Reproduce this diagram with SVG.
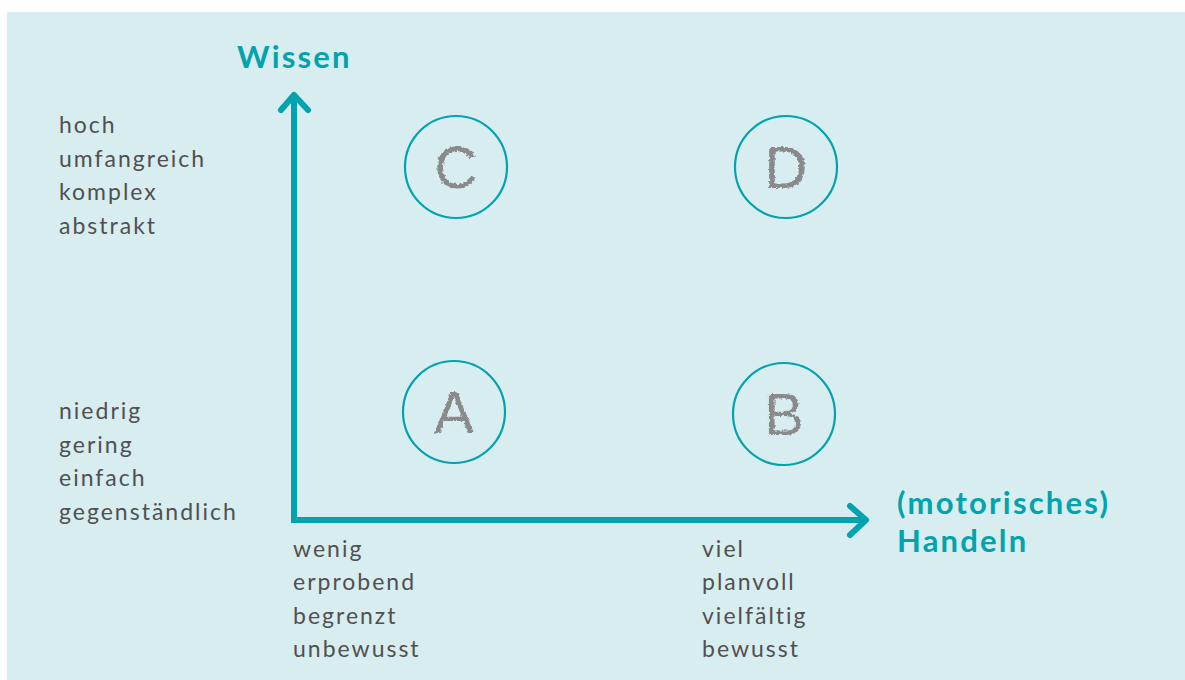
<svg xmlns="http://www.w3.org/2000/svg" width="1185" height="680" viewBox="0 0 1185 680">
  <defs>
    <style>
      .lbl { font-family: Lato, "Open Sans", "Liberation Sans", sans-serif; font-weight: 400; font-size: 23px; letter-spacing: 2px; fill: #505050; }
      .axis-title { font-family: Lato, "Open Sans", "Liberation Sans", sans-serif; font-weight: 700; font-size: 31px; letter-spacing: 2.2px; fill: #00a3ae; }
      .ring { fill: none; stroke: #00a3ae; stroke-width: 2.2; }
      .chalk { font-family: "Liberation Sans", Arial, sans-serif; font-size: 60px; fill: #8a8a8a; text-anchor: middle; filter: url(#rough); }
      .axis { fill: none; stroke: #00a3ae; stroke-width: 6; }
      .head { fill: none; stroke: #00a3ae; stroke-width: 6; stroke-linecap: round; stroke-linejoin: round; }
    </style>
    <!-- crayon-like roughness for the quadrant letters -->
    <filter id="rough" x="-20%" y="-20%" width="140%" height="140%">
      <feTurbulence type="fractalNoise" baseFrequency="0.35" numOctaves="2" seed="3" result="n"/>
      <feDisplacementMap in="SourceGraphic" in2="n" scale="4" xChannelSelector="R" yChannelSelector="G"/>
    </filter>
  </defs>

  <rect x="7" y="12" width="1178" height="668" fill="#d8edf0"/>

  <!-- axes -->
  <g id="connectors">
    <path class="axis" d="M294 96 V520 H866"/>
    <path class="head" d="M281 110 L294 95 L308 110"/>
    <path class="head" d="M850 506 L866 520 L850 535"/>
  </g>

  <g id="axis-y-title">
    <text class="axis-title" x="237" y="68">Wissen</text>
  </g>
  <g id="axis-x-title">
    <text class="axis-title" x="897" y="514">(motorisches)</text>
    <text class="axis-title" x="897" y="552">Handeln</text>
  </g>

  <g id="labels-high">
    <text class="lbl" x="59" y="133">hoch</text>
    <text class="lbl" x="59" y="167">umfangreich</text>
    <text class="lbl" x="59" y="200">komplex</text>
    <text class="lbl" x="59" y="234">abstrakt</text>
  </g>
  <g id="labels-low">
    <text class="lbl" x="59" y="419">niedrig</text>
    <text class="lbl" x="59" y="453">gering</text>
    <text class="lbl" x="59" y="486">einfach</text>
    <text class="lbl" x="59" y="520">gegenständlich</text>
  </g>
  <g id="labels-little">
    <text class="lbl" x="293" y="557">wenig</text>
    <text class="lbl" x="293" y="590">erprobend</text>
    <text class="lbl" x="293" y="624">begrenzt</text>
    <text class="lbl" x="293" y="657">unbewusst</text>
  </g>
  <g id="labels-much">
    <text class="lbl" x="702" y="557">viel</text>
    <text class="lbl" x="702" y="590">planvoll</text>
    <text class="lbl" x="702" y="624">vielfältig</text>
    <text class="lbl" x="702" y="657">bewusst</text>
  </g>

  <g id="node-c">
    <circle class="ring" cx="456" cy="167" r="51"/>
    <text class="chalk" x="456" y="188">C</text>
  </g>
  <g id="node-d">
    <circle class="ring" cx="786" cy="167" r="51"/>
    <text class="chalk" x="786" y="188">D</text>
  </g>
  <g id="node-a">
    <circle class="ring" cx="454" cy="412" r="51"/>
    <text class="chalk" x="454" y="433">A</text>
  </g>
  <g id="node-b">
    <circle class="ring" cx="784" cy="414" r="51"/>
    <text class="chalk" x="784" y="435">B</text>
  </g>
</svg>
